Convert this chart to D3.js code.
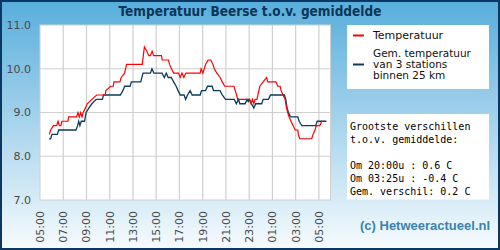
<!DOCTYPE html>
<html><head><meta charset="utf-8">
<script src="https://cdn.jsdelivr.net/npm/d3@7"></script>
<style>html,body{margin:0;padding:0;background:#fff}svg{display:block}</style>
</head><body>
<svg id="chart" width="500" height="250"></svg>
<script>
// ---- data ----
const title = "Temperatuur Beerse t.o.v. gemiddelde";
const xTickLabels = ["05:00","07:00","09:00","11:00","13:00","15:00","17:00","19:00","21:00","23:00","01:00","03:00","05:00"];
const yTickValues = [7, 8, 9, 10, 11];
const seriesNames = ["Temperatuur", "Gem. temperatuur|van 3 stations|binnen 25 km"];
const tempTimes = ["05:48","05:55","06:09","06:26","06:33","06:40","06:48","06:53","07:24","07:28","08:09","08:16","08:23","08:30","08:37","08:43","08:54","09:04","09:28","09:53","10:37","10:40","11:05","11:18","11:22","11:53","11:59","12:17","12:27","13:48","13:59","14:12","14:22","14:30","14:39","14:47","15:27","15:31","16:03","16:09","16:19","16:30","16:55","17:04","17:13","17:23","17:33","18:47","18:52","19:01","19:15","19:28","19:42","19:53","20:00","20:13","20:30","20:41","20:54","21:41","21:48","21:55","22:01","23:03","23:10","23:17","23:24","23:31","23:40","23:45","23:55","00:12","00:30","00:36","01:18","01:28","01:40","01:45","01:55","02:06","02:13","02:19","02:26","02:36","02:47","02:57","03:11","03:14","03:21","04:23","04:30","04:40","04:47","05:05","05:15","05:22"];
const tempValues = [8.5,8.6,8.7,8.7,8.8,8.7,8.7,8.8,8.8,8.9,8.9,9.0,8.9,9.0,8.9,9.0,9.1,9.2,9.3,9.4,9.4,9.5,9.6,9.6,9.7,9.7,9.8,9.9,10.1,10.1,10.5,10.4,10.3,10.3,10.4,10.3,10.3,10.2,10.2,10.1,10.0,9.9,9.9,9.8,9.9,9.8,9.9,9.9,10.0,9.9,10.1,10.2,10.2,10.1,10.0,9.9,9.8,9.7,9.6,9.6,9.5,9.4,9.3,9.3,9.2,9.3,9.2,9.3,9.3,9.4,9.6,9.7,9.8,9.7,9.7,9.6,9.6,9.5,9.4,9.3,9.1,9.0,8.9,8.8,8.7,8.6,8.6,8.5,8.4,8.4,8.5,8.6,8.7,8.7,8.8,8.8];
const avgTimes = ["05:48","05:55","06:02","06:30","06:36","08:06","08:14","08:20","08:26","08:33","08:50","08:58","09:12","09:28","09:50","10:22","10:28","11:55","12:08","12:17","12:45","12:52","13:40","13:52","14:30","14:38","14:48","15:30","15:42","15:52","16:02","16:18","16:30","16:43","16:53","17:04","17:24","17:32","17:42","17:55","18:06","18:47","18:54","19:15","19:25","19:49","19:56","20:30","20:41","20:58","21:43","21:54","22:05","22:12","22:39","22:49","22:55","23:00","23:24","23:34","00:05","00:12","00:40","00:50","02:02","02:09","02:16","02:23","02:33","03:11","03:18","03:32","04:44","04:51","05:39"];
const avgValues = [8.4,8.4,8.5,8.5,8.6,8.6,8.7,8.8,8.7,8.8,8.8,9.0,9.1,9.2,9.3,9.3,9.4,9.4,9.5,9.6,9.6,9.7,9.7,9.9,9.9,10.0,9.9,9.9,9.8,9.9,9.8,9.8,9.7,9.6,9.5,9.4,9.4,9.3,9.4,9.5,9.4,9.4,9.5,9.5,9.6,9.6,9.5,9.5,9.4,9.3,9.3,9.2,9.3,9.2,9.2,9.3,9.25,9.3,9.1,9.2,9.2,9.3,9.3,9.4,9.4,9.3,9.1,9.0,8.9,8.9,8.8,8.7,8.7,8.8,8.8];
const statsLines = ["Grootste verschillen","t.o.v. gemiddelde:","","Om 20:00u : 0.6 C","Om 03:25u : -0.4 C","Gem. verschil: 0.2 C"];
const credit = "(c) Hetweeractueel.nl";

// ---- helpers ----
function toDates(arr){
  let prev = null;
  return arr.map(s=>{
    const [h,m] = s.split(":").map(Number);
    let d = new Date(2020,0,1,h,m);
    if (prev && (d < prev || prev.getDate()===2)) { d = new Date(2020,0,2,h,m); }
    prev = d; return d;
  });
}
const tT = toDates(tempTimes), aT = toDates(avgTimes), xT = toDates(xTickLabels);
const temp = tT.map((d,i)=>({t:d,v:tempValues[i]}));
const avg = aT.map((d,i)=>({t:d,v:avgValues[i]}));

const svg = d3.select("#chart");
const defs = svg.append("defs");
const g = defs.append("linearGradient").attr("id","bg").attr("x1",0).attr("y1",0).attr("x2",0).attr("y2",1);
g.append("stop").attr("offset","0%").attr("stop-color","#58aedc");
g.append("stop").attr("offset","55%").attr("stop-color","#b0d8ee");
g.append("stop").attr("offset","100%").attr("stop-color","#f6fbfe");
svg.append("rect").attr("x",1).attr("y",1).attr("width",498).attr("height",248)
  .attr("fill","url(#bg)").attr("stroke","#0b3763").attr("stroke-width",2);

svg.append("text").attr("x",250).attr("y",15.5).attr("text-anchor","middle")
  .attr("font-family","'DejaVu Sans Condensed','DejaVu Sans',sans-serif").attr("font-stretch","condensed")
  .attr("font-weight","bold").attr("font-size",13.5).attr("fill","#0c3558").text(title);

const x = d3.scaleTime().domain([new Date(2020,0,1,5,0), new Date(2020,0,2,6,0)]).range([40,330.5]);
const y = d3.scaleLinear().domain([7,11]).range([200,25]);

svg.append("rect").attr("x",40).attr("y",25).attr("width",290.5).attr("height",175)
  .attr("fill","#fff").attr("stroke","#d0d0d0").attr("stroke-width",1);

const grid = svg.append("g").attr("stroke","#cfcfcf").attr("stroke-width",1.2);
xT.slice(1).forEach(d=>grid.append("line").attr("x1",x(d)).attr("x2",x(d)).attr("y1",25).attr("y2",200));
yTickValues.slice(1,-1).forEach(v=>grid.append("line").attr("x1",40).attr("x2",330.5).attr("y1",y(v)).attr("y2",y(v)));

svg.append("g").selectAll("text").data(yTickValues).join("text")
  .attr("x",31).attr("y",d=>y(d)).attr("dy","0.36em").attr("text-anchor","end")
  .attr("font-family","'DejaVu Sans',sans-serif").attr("font-size",11).attr("fill","#4a4a4a")
  .text(d=>d.toFixed(1));

svg.append("g").selectAll("text").data(xT).join("text")
  .attr("transform",(d)=>`translate(${x(d)},211) rotate(-90)`).attr("dy","0.36em").attr("text-anchor","end")
  .attr("font-family","'DejaVu Sans',sans-serif").attr("font-size",11).attr("fill","#4a4a4a")
  .text((d,i)=>xTickLabels[i]);

const line = d3.line().x(d=>x(d.t)).y(d=>y(d.v));
svg.append("path").datum(avg).attr("d",line).attr("fill","none").attr("stroke","#0d3b5e").attr("stroke-width",1.3);
svg.append("path").datum(temp).attr("d",line).attr("fill","none").attr("stroke","#ff0000").attr("stroke-width",1.2);

// legend
svg.append("rect").attr("x",347).attr("y",25).attr("width",142).attr("height",64).attr("fill","#fff");
svg.append("line").attr("x1",353).attr("x2",364).attr("y1",35.5).attr("y2",35.5).attr("stroke","#ff0000").attr("stroke-width",2);
svg.append("line").attr("x1",353).attr("x2",364).attr("y1",64.5).attr("y2",64.5).attr("stroke","#0d3b5e").attr("stroke-width",2);
const lg = svg.append("g").attr("font-family","'DejaVu Sans',sans-serif").attr("fill","#111");
lg.append("text").attr("x",373).attr("y",39).attr("font-size",11).text(seriesNames[0]);
seriesNames[1].split("|").forEach((s,i)=>lg.append("text").attr("x",373).attr("y",56.8+i*11.3).attr("font-size",10.5).text(s));

// stats
svg.append("rect").attr("x",347).attr("y",114).attr("width",142).attr("height",85.5).attr("fill","#fff");
const st = svg.append("g").attr("font-family","'DejaVu Sans Mono',monospace").attr("font-size",10).attr("fill","#000");
statsLines.forEach((s,i)=>{ if (s) st.append("text").attr("x",350).attr("y",130+i*12.9).style("white-space","pre").text(s); });

svg.append("text").attr("x",360).attr("y",230).attr("font-family","'Liberation Sans',Arial,sans-serif")
  .attr("font-weight","bold").attr("font-size",13).attr("fill","#3b82ad").text(credit);
</script>
</body></html>
